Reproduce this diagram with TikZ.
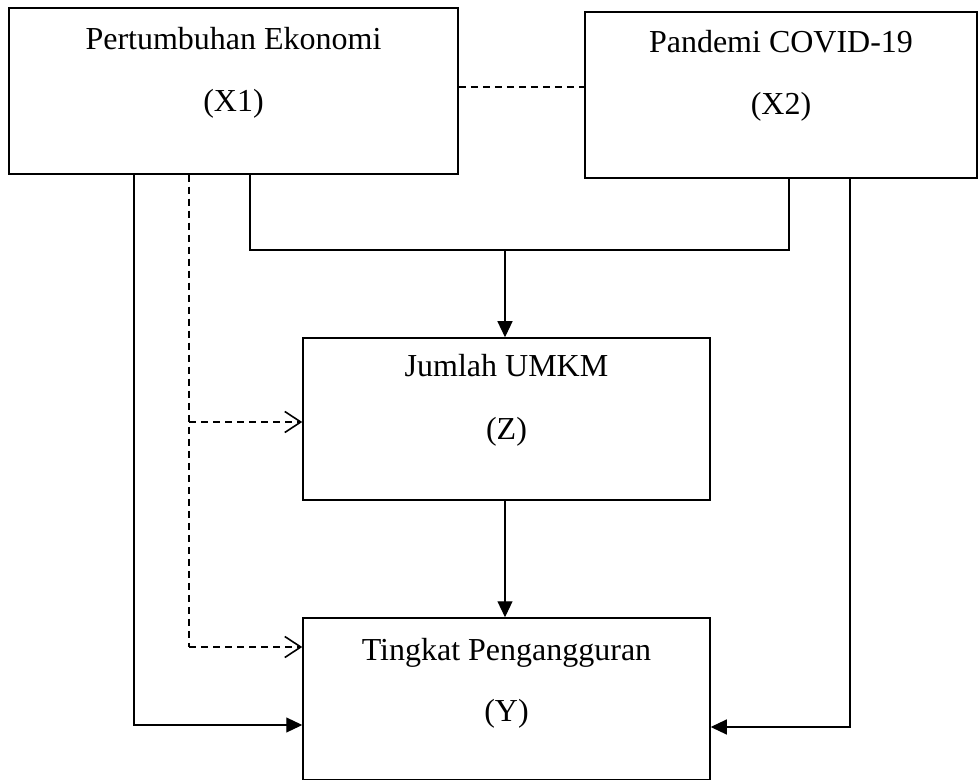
\documentclass[tikz,border=0pt]{standalone}
\usepackage{fontspec}
\setmainfont{Liberation Serif}
\usetikzlibrary{arrows.meta,positioning,calc}
\tikzset {
    box/.style={draw, line width=0.75pt, inner sep=0pt},
    boxtext/.style={inner sep=0pt, anchor=base, font=\fontsize{16}{18}\selectfont},
    link/.style={draw, line width=0.6pt},
    dashlink/.style={link, dash pattern=on 3.5pt off 2.5pt},
    solidarrow/.style={link, -{Triangle[length=8pt, width=7.5pt]}},
    dasharrow/.style={dashlink, -{Straight Barb[length=8pt, width=10.5pt, line width=0.8pt]}},
}
\begin{document}
\begin{tikzpicture}[x=0.5pt, y=-0.5pt]

        \useasboundingbox (0,0) rectangle (979,780);

        % boxes
        \node[box, minimum width=224.5pt, minimum height=83pt] (x1) at (233.5,91) {};
        \node[box, minimum width=196pt, minimum height=83pt] (x2) at (781,95) {};
        \node[box, minimum width=203.5pt, minimum height=81pt] (z) at (506.5,419) {};
        \node[box, minimum width=203.5pt, minimum height=81pt] (y) at (506.5,699) {};

        % texts
        \node[boxtext] (x1name) at (233.5,50) {Pertumbuhan Ekonomi};
        \node[boxtext] (x1code) at (233.5,112) {(X1)};
        \node[boxtext] (x2name) at (781,53) {Pandemi COVID-19};
        \node[boxtext] (x2code) at (781,115) {(X2)};
        \node[boxtext] (zname) at (506.5,377) {Jumlah UMKM};
        \node[boxtext] (zcode) at (506.5,439) {(Z)};
        \node[boxtext] (yname) at (506.5,660) {Tingkat Pengangguran};
        \node[boxtext] (ycode) at (506.5,721) {(Y)};

        % helper points
        \coordinate (corr) at (0,87);
        \coordinate (joinL) at (250,250);
        \coordinate (joinR) at (789,250);
        \coordinate (joinM) at (505,250);
        \coordinate (dashZ) at (189,422);
        \coordinate (dashY) at (189,647);
        \coordinate (left) at (134,725);
        \coordinate (right) at (850,727);

        \draw[dashlink] (x1.east |- corr) -- (x2.west |- corr);

        \draw[link] (x1.south -| joinL) -- (joinL) -- (joinR) -- (x2.south -| joinR);
        \draw[solidarrow] (joinM) -- (z.north -| joinM);
        \draw[solidarrow] (z.south -| joinM) -- (y.north -| joinM);

        \draw[dashlink] (x1.south -| dashY) -- (dashY);
        \draw[dasharrow] (dashZ) -- (z.west |- dashZ);
        \draw[dasharrow] (dashY) -- (y.west |- dashY);

        \draw[solidarrow] (x1.south -| left) |- (y.west |- left);
        \draw[solidarrow] (x2.south -| right) |- (y.east |- right);

    \end{tikzpicture}
\end{document}
